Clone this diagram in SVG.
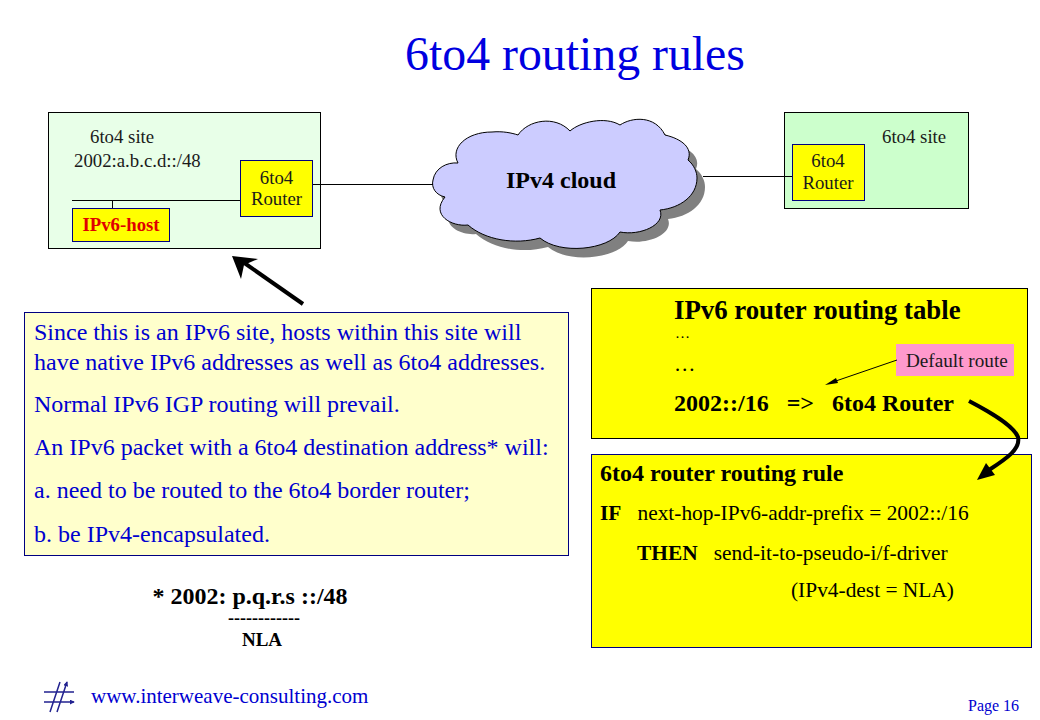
<svg xmlns="http://www.w3.org/2000/svg" width="1040" height="720" viewBox="0 0 1040 720">
<style>
text{font-family:"Liberation Serif","Times New Roman",serif}
.b{font-weight:bold}
.ln{stroke:#000;stroke-width:1;fill:none}
.box{stroke:#000;stroke-width:1}
.router{fill:#ffff00;stroke:#000080;stroke-width:1}
.s15{font-size:18.800px;fill:#1a1a1a}
.b21{font-size:24px;fill:#0000d0}
.r{font-size:21.400px;fill:#000}
.m{text-anchor:middle}
</style>
<defs>
<path id="cloud" d="M433,180C435,168 447,162 458,163C450,148 466,132 492,132C503,131 512,133 518,135C528,120 555,115 570,131C580,122 605,116 620,125C632,117 655,115 665,135C682,139 693,148 688,160C694,165 697,172 697,178C697,196 680,208 660,210C666,225 640,236 620,232C608,250 560,255 540,238C515,245 485,240 468,225C452,227 430,215 445,197C436,195 431,188 433,180Z"/>
<marker id="tip" viewBox="0 0 6 6" refX="5" refY="3" markerWidth="5" markerHeight="5" orient="auto-start-reverse" markerUnits="userSpaceOnUse"><path d="M0,0L6,3L0,6Z" fill="#222290"/></marker>
</defs>
<text id="title" x="575" y="70" font-size="47.800" fill="#0000e0" text-anchor="middle">6to4 routing rules</text>

<g id="site-left">
<rect class="box" x="48.500" y="112.500" width="272" height="136" fill="#e8ffe8"/>
<text class="s15" x="90" y="143">6to4 site</text>
<text class="s15" x="74" y="167">2002:a.b.c.d::/48</text>
</g>
<g id="router-left">
<rect class="router" x="240.500" y="160.500" width="72" height="56"/>
<text class="s15 m" x="276.500" y="184">6to4</text>
<text class="s15 m" x="276.500" y="205">Router</text>
</g>
<g id="ipv6-host">
<rect class="router" x="72.500" y="208.500" width="97" height="33"/>
<text x="121" y="231" font-size="18.800" font-weight="bold" fill="#e00000" text-anchor="middle">IPv6-host</text>
</g>

<g id="cloud-node">
<use href="#cloud" x="8" y="9" fill="#808080"/>
<use href="#cloud" fill="#ccccff" stroke="#000" stroke-width="1"/>
<text class="b m" x="561" y="188" font-size="24" fill="#000">IPv4 cloud</text>
</g>

<g id="site-right">
<rect class="box" x="784.500" y="112.500" width="184" height="96" fill="#ccffcc"/>
<text class="s15" x="882" y="143">6to4 site</text>
</g>
<g id="router-right">
<rect class="router" x="792.500" y="144.500" width="72" height="56"/>
<text class="s15 m" x="828" y="167">6to4</text>
<text class="s15 m" x="828" y="189">Router</text>
</g>

<g id="note">
<rect x="24.500" y="312.500" width="544" height="243" fill="#ffffcc" stroke="#000080" stroke-width="1"/>
<text class="b21" x="34" y="340">Since this is an IPv6 site, hosts within this site will</text>
<text class="b21" x="34" y="370">have native IPv6 addresses as well as 6to4 addresses.</text>
<text class="b21" x="34" y="412">Normal IPv6 IGP routing will prevail.</text>
<text class="b21" x="34" y="455">An IPv6 packet with a 6to4 destination address* will:</text>
<text class="b21" x="34" y="498">a. need to be routed to the 6to4 border router;</text>
<text class="b21" x="34" y="542">b. be IPv4-encapsulated.</text>
</g>

<g id="nla">
<text class="b m" x="250" y="604" font-size="24" fill="#000">* 2002: p.q.r.s ::/48</text>
<text class="b m" x="264" y="624" font-size="18" fill="#000">------------</text>
<text class="b m" x="262" y="646" font-size="19" fill="#000">NLA</text>
</g>

<g id="routing-table">
<rect class="box" x="591.500" y="288.500" width="436" height="150" fill="#ffff00"/>
<text class="b" x="674" y="319" font-size="26.800" fill="#000">IPv6 router routing table</text>
<text x="675" y="338" font-size="15" fill="#000" letter-spacing="1">…</text>
<text class="r" x="674" y="371">…</text>
<text class="b" x="674" y="411" font-size="24" fill="#000" xml:space="preserve">2002::/16   =&gt;   6to4 Router</text>
</g>

<g id="default-route">
<rect x="896" y="344" width="118" height="32" fill="#ff99cc"/>
<text x="906" y="367" font-size="19.200" fill="#1a1a1a">Default route</text>
</g>

<g id="routing-rule">
<rect x="591.500" y="454.500" width="440" height="193" fill="#ffff00" stroke="#000080" stroke-width="1"/>
<text class="b" x="600" y="481" font-size="24" fill="#000">6to4 router routing rule</text>
<text class="r" x="600" y="520" xml:space="preserve"><tspan font-weight="bold">IF</tspan>   next-hop-IPv6-addr-prefix = 2002::/16</text>
<text class="r" x="637" y="560" xml:space="preserve"><tspan font-weight="bold">THEN</tspan>   send-it-to-pseudo-i/f-driver</text>
<text class="r" x="791" y="597">(IPv4-dest = NLA)</text>
</g>

<g id="connectors">
<path class="ln" d="M72,200.500H240M112.500,200.500V208M313,184.500H433M703,176.500H792"/>
<path d="M303,304L243,262" stroke="#000" stroke-width="4" fill="none"/>
<path d="M232,256L258,259L244,265L241,279Z" fill="#000"/>
<path d="M897,360L830,383" stroke="#000" stroke-width="1" fill="none"/>
<path d="M825,385L836,378L838,383Z" fill="#000"/>
<path d="M969,401C990,412 1013,425 1018,437C1021,450 1004,460 986,472" stroke="#000" stroke-width="4" fill="none"/>
<path d="M977,480L986,463L995,475Z" fill="#000"/>
</g>

<g id="footer">
<path d="M67,682L57,712M60,682L50,712M44,692H74M44,702H74" stroke="#222290" stroke-width="1.500" fill="none" marker-start="url(#tip)" marker-end="url(#tip)"/>
<text x="91" y="703" font-size="21" fill="#0000d0">www.interweave-consulting.com</text>
<text x="968" y="711" font-size="16" fill="#0000d0">Page 16</text>
</g>
</svg>
